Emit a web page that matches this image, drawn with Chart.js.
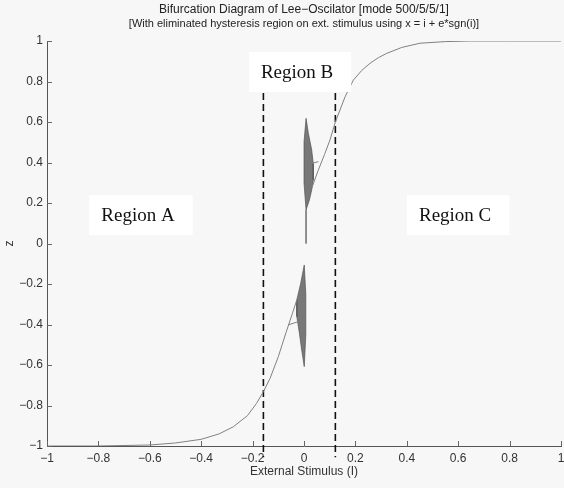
<!DOCTYPE html>
<html>
<head>
<meta charset="utf-8">
<script src="https://cdn.jsdelivr.net/npm/chart.js@4.4.1/dist/chart.umd.min.js"></script>
<style>
  html, body { margin: 0; padding: 0; background: #f7f7f7; }
  canvas { display: block; }
</style>
</head>
<body>
<canvas id="bifChart" width="564" height="488"></canvas>
<script>
// values
const titleText = 'Bifurcation Diagram of Lee\u2212Oscilator [mode 500/5/5/1]';
const subtitleText = '[With eliminated hysteresis region on ext. stimulus using x = i + e*sgn(i)]';
const xTicks = [-1, -0.8, -0.6, -0.4, -0.2, 0, 0.2, 0.4, 0.6, 0.8, 1];
const xTickLabels = ['\u22121', '\u22120.8', '\u22120.6', '\u22120.4', '\u22120.2', '0', '0.2', '0.4', '0.6', '0.8', '1'];
const yTicks = [-1, -0.8, -0.6, -0.4, -0.2, 0, 0.2, 0.4, 0.6, 0.8, 1];
const yTickLabels = ['\u22121', '\u22120.8', '\u22120.6', '\u22120.4', '\u22120.2', '0', '0.2', '0.4', '0.6', '0.8', '1'];

// lower branch of the response curve (region A side)
const leftX = [-1, -0.8, -0.6, -0.5, -0.4, -0.33, -0.275, -0.22, -0.185, -0.158, -0.132, -0.1, -0.07, -0.045, -0.028];
const leftZ = [-1, -1, -0.995, -0.985, -0.967, -0.94, -0.905, -0.85, -0.79, -0.732, -0.666, -0.559, -0.44, -0.345, -0.279];

// upper branch (region C side)
const rightX = [0.03, 0.055, 0.08, 0.101, 0.122, 0.16, 0.192, 0.225, 0.257, 0.29, 0.322, 0.38, 0.451, 0.55, 0.646, 0.8, 1];
const rightZ = [0.273, 0.36, 0.44, 0.511, 0.6, 0.725, 0.807, 0.855, 0.89, 0.918, 0.939, 0.968, 0.989, 0.997, 1, 1, 1];

// chaotic clouds (outlines)
const lowerCloudX = [0.001, -0.013, -0.028, -0.028, -0.018, -0.009, 0.001, 0.007, 0.007, 0.001];
const lowerCloudZ = [-0.106, -0.197, -0.279, -0.361, -0.442, -0.526, -0.608, -0.45, -0.25, -0.106];
const upperCloudX = [0.008, 0.017, 0.03, 0.036, 0.036, 0.03, 0.021, 0.008, 0.0, 0.0, 0.008];
const upperCloudZ = [0.618, 0.544, 0.462, 0.396, 0.314, 0.264, 0.215, 0.165, 0.3, 0.5, 0.618];
const tailX = [0.008, 0.008];
const tailZ = [0.165, 0.0];
const lowerStubX = [-0.061, -0.022];
const lowerStubZ = [-0.402, -0.386];
const upperStubX = [0.056, 0.03];
const upperStubZ = [0.404, 0.396];

// region borders
const borderLeftX = -0.158;
const borderRightX = 0.122;
const borderZ = [0.743, -1.056];

const regionNames = ['Region A', 'Region B', 'Region C'];
const regionX = [-0.646, -0.027, 0.588];
const regionZ = [0.141, 0.847, 0.141];

function pts(xs, zs) {
    return xs.map((x, i) => ({ x: x, y: zs[i] }));
}

const curveStyle = { borderColor: '#808080', borderWidth: 1, pointRadius: 0, fill: false };
const cloudStyle = {
    borderColor: 'rgba(80,80,80,0.85)', backgroundColor: 'rgba(70,70,70,0.72)',
    borderWidth: 0.8, pointRadius: 0, fill: 'shape'
};
const dashStyle = { borderColor: '#111', borderWidth: 1.6, borderDash: [7, 4], pointRadius: 0, fill: false, clip: false };
const sans = '"Liberation Sans", Arial, sans-serif';

const extrasPlugin = {
    id: 'extras',
    afterDatasetsDraw(chart) {
        const ctx = chart.ctx;
        const xs = chart.scales.x, ys = chart.scales.y;
        const area = chart.chartArea;
        ctx.save();
        // inward tick marks, MATLAB style
        ctx.strokeStyle = '#666';
        ctx.lineWidth = 1;
        ctx.beginPath();
        xTicks.forEach(v => {
            const px = Math.round(xs.getPixelForValue(v)) + 0.5;
            ctx.moveTo(px, area.bottom);
            ctx.lineTo(px, area.bottom - 5);
        });
        yTicks.forEach(v => {
            const py = Math.round(ys.getPixelForValue(v)) + 0.5;
            ctx.moveTo(area.left, py);
            ctx.lineTo(area.left + 5, py);
        });
        ctx.stroke();

        // region labels on white boxes
        ctx.font = '19px "Liberation Serif", "Times New Roman", serif';
        ctx.textAlign = 'center';
        ctx.textBaseline = 'middle';
        regionNames.forEach((name, i) => {
            const cx = xs.getPixelForValue(regionX[i]);
            const cy = ys.getPixelForValue(regionZ[i]);
            const w = ctx.measureText(name).width;
            ctx.fillStyle = '#ffffff';
            ctx.fillRect(cx - w / 2 - 12, cy - 20, w + 30, 40);
            ctx.fillStyle = '#111';
            ctx.fillText(name, cx, cy + 1);
        });
        ctx.restore();
    }
};

new Chart(document.getElementById('bifChart'), {
    type: 'line',
    data: {
        datasets: [
            Object.assign({ data: pts(leftX, leftZ) }, curveStyle),
            Object.assign({ data: pts(rightX, rightZ) }, curveStyle),
            Object.assign({ data: pts(tailX, tailZ) }, curveStyle),
            Object.assign({ data: pts(lowerStubX, lowerStubZ) }, curveStyle),
            Object.assign({ data: pts(upperStubX, upperStubZ) }, curveStyle),
            Object.assign({ data: pts(lowerCloudX, lowerCloudZ) }, cloudStyle),
            Object.assign({ data: pts(upperCloudX, upperCloudZ) }, cloudStyle),
            Object.assign({ data: pts([borderLeftX, borderLeftX], borderZ) }, dashStyle),
            Object.assign({ data: pts([borderRightX, borderRightX], borderZ) }, dashStyle)
        ]
    },
    options: {
        responsive: false,
        animation: false,
        devicePixelRatio: 1,
        layout: { padding: { left: 0, right: 3, top: 0, bottom: 0 } },
        elements: { line: { tension: 0 } },
        plugins: {
            legend: { display: false },
            tooltip: { enabled: false },
            title: {
                display: true,
                text: titleText,
                fullSize: false,
                color: '#222',
                font: { family: sans, size: 12, weight: 'normal', lineHeight: '14px' },
                padding: { top: 3, bottom: 0 }
            },
            subtitle: {
                display: true,
                text: subtitleText,
                fullSize: false,
                color: '#222',
                font: { family: sans, size: 11, weight: 'normal', lineHeight: '14px' },
                padding: { top: 0, bottom: 10 }
            }
        },
        scales: {
            x: {
                type: 'linear',
                min: -1,
                max: 1,
                afterBuildTicks: s => { s.ticks = xTicks.map(v => ({ value: v })); },
                afterFit: s => { s.height = 42; s.paddingRight = 0; },
                ticks: {
                    autoSkip: false,
                    maxRotation: 0,
                    padding: 5,
                    color: '#333',
                    font: { family: sans, size: 12 },
                    callback: (v, i) => xTickLabels[i]
                },
                grid: { display: true, drawOnChartArea: false, drawTicks: false },
                border: { display: true, color: '#555', width: 1 },
                title: {
                    display: true,
                    text: 'External Stimulus (I)',
                    color: '#333',
                    font: { family: sans, size: 12 },
                    padding: { top: 0, bottom: 9 }
                }
            },
            y: {
                type: 'linear',
                min: -1,
                max: 1,
                afterBuildTicks: s => { s.ticks = yTicks.map(v => ({ value: v })); },
                afterFit: s => { s.width = 47; },
                ticks: {
                    autoSkip: false,
                    padding: 4,
                    color: '#333',
                    font: { family: sans, size: 12 },
                    callback: (v, i) => yTickLabels[i]
                },
                grid: { display: true, drawOnChartArea: false, drawTicks: false },
                border: { display: true, color: '#555', width: 1 },
                title: {
                    display: true,
                    text: 'z',
                    color: '#333',
                    font: { family: sans, size: 12 },
                    padding: { top: 2, bottom: 0 }
                }
            }
        }
    },
    plugins: [extrasPlugin]
});
</script>
</body>
</html>
